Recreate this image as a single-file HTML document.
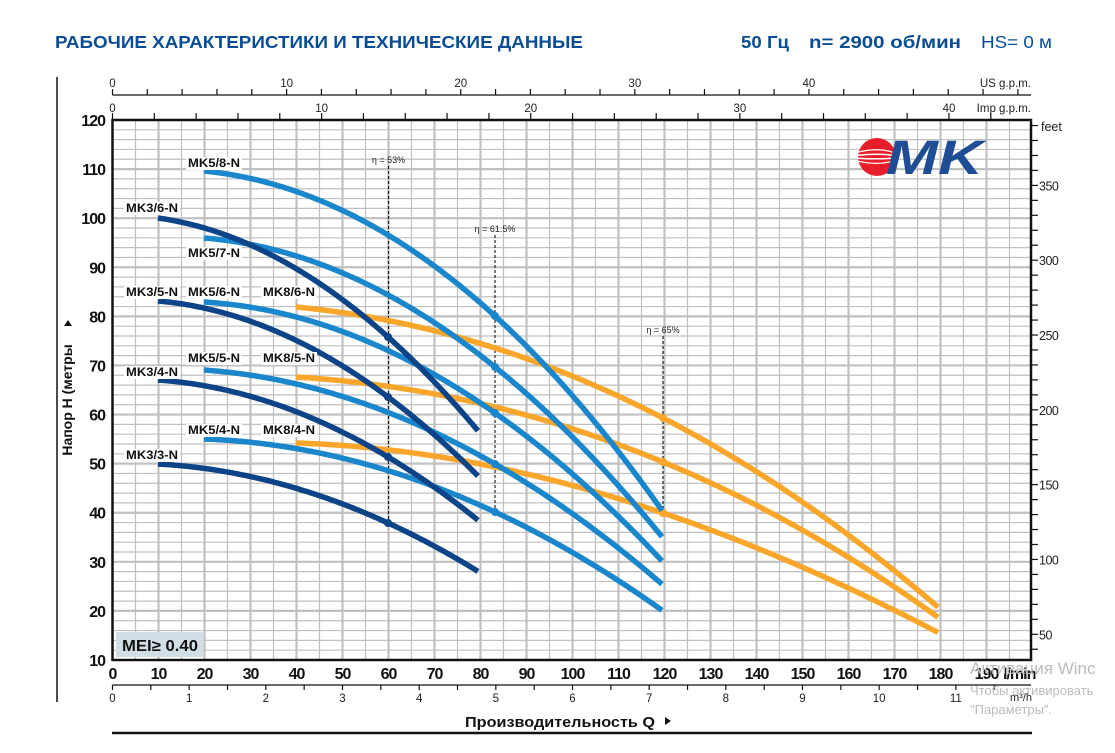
<!DOCTYPE html>
<html><head><meta charset="utf-8"><style>
html,body{margin:0;padding:0;background:#fff;width:1115px;height:753px;overflow:hidden}
svg{display:block}
</style></head><body>
<svg id="s" width="1115" height="753" xmlns="http://www.w3.org/2000/svg" font-family="Liberation Sans, DejaVu Sans, sans-serif">
<text x="55" y="48" font-size="17.5" font-weight="bold" fill="#0a4d94" textLength="528" lengthAdjust="spacingAndGlyphs">РАБОЧИЕ ХАРАКТЕРИСТИКИ И ТЕХНИЧЕСКИЕ ДАННЫЕ</text>
<text x="741" y="48" font-size="17.5" font-weight="bold" fill="#0a4d94" textLength="48" lengthAdjust="spacingAndGlyphs">50 Гц</text>
<text x="809" y="48" font-size="17.5" font-weight="bold" fill="#0a4d94" textLength="152" lengthAdjust="spacingAndGlyphs">n= 2900 об/мин</text>
<text x="981" y="48" font-size="17.5" fill="#0a4d94" textLength="71" lengthAdjust="spacingAndGlyphs">HS= 0 м</text>
<g id="g"></g>
</svg>
<script>
var NS="http://www.w3.org/2000/svg",G=document.getElementById('g');
function el(t,a,txt){var e=document.createElementNS(NS,t);for(var k in a)e.setAttribute(k,a[k]);if(txt!==undefined)e.textContent=txt;G.appendChild(e);return e;}
var X0=112.5,PX=4.6,YT=120,YB=660,XR=1031;
function xq(q){return X0+q*PX;}
function yh(h){return YT+(120-h)*540/110;}
for(var q=5;q<200;q+=5){var x=xq(q);el('line',{x1:x,y1:YT,x2:x,y2:YB,stroke:'#c0c0c0','stroke-width':q%10==0?2.2:1.2});}
for(var h=12;h<120;h+=2){var y=yh(h);el('line',{x1:X0,y1:y,x2:XR,y2:y,stroke:'#c0c0c0','stroke-width':h%10==0?2.2:1.2});}
el('rect',{x:116,y:632,width:87,height:25,fill:'#d3dfe7'});
el('text',{x:122,y:651,'font-size':15.5,'font-weight':'bold',fill:'#111',textLength:76,lengthAdjust:'spacingAndGlyphs'},'MEI≥ 0.40');
el('rect',{x:X0,y:YT,width:XR-X0,height:YB-YT,fill:'none',stroke:'#111','stroke-width':2.5});
for(var h=10;h<=120;h+=10){el('text',{x:105,y:yh(h)+6,'font-size':16,'font-weight':'bold','text-anchor':'end',fill:'#111',style:'letter-spacing:-1px'},h);}
for(var q=0;q<=190;q+=10){el('text',{x:xq(q),y:679,'font-size':16,'font-weight':'bold','text-anchor':'middle',fill:'#111',style:'letter-spacing:-1px'},q);}
el('text',{x:1003,y:679,'font-size':16,'font-weight':'bold',fill:'#111',style:'letter-spacing:-1px'},'l/min');
el('line',{x1:X0,y1:685,x2:XR,y2:685,stroke:'#111','stroke-width':1.3});
for(var m=0;m<=11.5;m+=0.5){var x=X0+m*16.667*PX;if(x>XR)break;el('line',{x1:x,y1:685,x2:x,y2:690,stroke:'#111','stroke-width':1.2});
 if(m%1==0)el('text',{x:x,y:702,'font-size':11.5,'text-anchor':'middle',fill:'#222'},m);}
el('text',{x:1010,y:701,'font-size':11,fill:'#222'},'m³/h');
el('text',{x:465,y:727,'font-size':15,'font-weight':'bold',fill:'#111',textLength:190,lengthAdjust:'spacingAndGlyphs'},'Производительность Q');
el('path',{d:'M665,717 l6,4 l-6,4z',fill:'#111'});
el('line',{x1:112,y1:733,x2:1032,y2:733,stroke:'#111','stroke-width':2.5});
el('line',{x1:57,y1:77,x2:57,y2:702,stroke:'#111','stroke-width':1.5});
el('line',{x1:X0,y1:95,x2:XR,y2:95,stroke:'#111','stroke-width':1.3});
for(var g=0;g<=52;g+=2){var x=X0+g*3.785*PX;if(x>XR)break;el('line',{x1:x,y1:89,x2:x,y2:95,stroke:'#111','stroke-width':1.2});
 if(g%10==0&&g<50)el('text',{x:x,y:87,'font-size':11.5,'text-anchor':'middle',fill:'#222'},g);}
el('text',{x:1031,y:87,'font-size':11.5,'text-anchor':'end',fill:'#222'},'US g.p.m.');
for(var g=0;g<=44;g+=2){var x=X0+g*4.546*PX;if(x>XR)break;el('line',{x1:x,y1:113,x2:x,y2:120,stroke:'#111','stroke-width':1.2});
 if(g%10==0)el('text',{x:x,y:112,'font-size':11.5,'text-anchor':'middle',fill:'#222'},g);}
el('text',{x:1031,y:112,'font-size':11.5,'text-anchor':'end',fill:'#222'},'Imp g.p.m.');
for(var f=40;f<=390;f+=10){var y=yh(f/3.2808);if(y<YT-1)continue;el('line',{x1:XR,y1:y,x2:XR+7,y2:y,stroke:'#111','stroke-width':1.2});
 if(f%50==0)el('text',{x:XR+8,y:y+5,'font-size':12.5,fill:'#222',style:'letter-spacing:-0.5px'},f);}
el('text',{x:XR+10,y:131,'font-size':12.5,fill:'#222'},'feet');
el('text',{x:0,y:0,'font-size':14,'font-weight':'bold',fill:'#111','text-anchor':'middle',transform:'translate(72,400) rotate(-90)'},'Напор H (метры');
el('path',{d:'M64,326 l4,-6 l4,6z',fill:'#111'});
function dash(x,y1,y2,lab){el('line',{x1:x,y1:y1,x2:x,y2:y2,stroke:'#111','stroke-width':1.1,'stroke-dasharray':'3,2'});
 el('text',{x:x,y:y1-3,'font-size':9,'text-anchor':'middle',fill:'#222'},lab);}
dash(388.5,166,523,'η = 53%');dash(495,235,512,'η = 61.5%');dash(663,336,513,'η = 65%');
function poly(pts){var n=pts.length;return function(x){var s=0;for(var i=0;i<n;i++){var p=pts[i][1];for(var j=0;j<n;j++)if(j!=i)p*=(x-pts[j][0])/(pts[i][0]-pts[j][0]);s+=p;}return s;};}
function curve(pts,col,dots){var f=poly(pts),x0=pts[0][0],x1=pts[pts.length-1][0],d='';
 for(var x=x0;x<=x1+0.01;x+=2){d+=(d?'L':'M')+x.toFixed(1)+','+f(x).toFixed(1);}
 el('path',{d:d,fill:'none',stroke:col,'stroke-width':5.5,'stroke-linecap':'butt'});
 (dots||[]).forEach(function(x){el('circle',{cx:x,cy:f(x),r:4,fill:col});});}
var O='#f9a62b',B='#1a86cc',D='#0d4488';
curve([[296,307],[495,348],[663,418],[939,608]],O,[663]);
curve([[296,377],[495,407],[663,462],[939,618]],O,[663]);
curve([[296,443],[495,467],[663,513],[939,633]],O,[663]);
curve([[204,171],[388,235],[495,316],[663,512]],B,[495]);
curve([[204,238],[495,367],[663,538]],B,[495]);
curve([[204,302],[495,413],[663,562]],B,[495]);
curve([[204,370],[495,464],[663,585]],B,[495]);
curve([[204,439],[495,512],[663,611]],B,[495]);
curve([[158,218],[388,337],[479,432]],D,[388]);
curve([[158,301],[388,397],[479,477]],D,[388]);
curve([[158,380],[388,457],[479,521]],D,[388]);
curve([[158,464],[388,523],[479,572]],D,[388]);
function lab(x,y,s){el('rect',{x:x-2,y:y-10,width:56,height:13,fill:'#fff'});el('text',{x:x,y:y,'font-size':11.5,'font-weight':'bold',fill:'#111',textLength:52,lengthAdjust:'spacingAndGlyphs'},s);}
lab(188,167,'MK5/8-N');lab(126,212,'MK3/6-N');lab(188,257,'MK5/7-N');
lab(126,296,'MK3/5-N');lab(188,296,'MK5/6-N');lab(263,296,'MK8/6-N');
lab(188,362,'MK5/5-N');lab(263,362,'MK8/5-N');lab(126,376,'MK3/4-N');
lab(188,434,'MK5/4-N');lab(263,434,'MK8/4-N');lab(126,459,'MK3/3-N');
el('circle',{cx:877,cy:157,r:19,fill:'#e81f2a'});
[[-8,1.2],[-3,1.5],[2,1.5],[7,1.2]].forEach(function(a){el('path',{d:'M858,'+(157+a[0]*0.6)+' Q880,'+(157+a[0]*1.3)+' 897,'+(157+a[0]*0.4),stroke:'#fff','stroke-width':a[1],fill:'none'});});
el('text',{x:886,y:174,'font-size':48,'font-weight':'bold','font-style':'italic',fill:'#1e4c95',textLength:97,lengthAdjust:'spacingAndGlyphs'},'MK');
el('text',{x:970,y:674,'font-size':17,fill:'#bbb'},'Активация Winc');
el('text',{x:970,y:695,'font-size':13,fill:'#bbb'},'Чтобы активировать');
el('text',{x:970,y:714,'font-size':13,fill:'#bbb'},'"Параметры".');
</script>
</body></html>
